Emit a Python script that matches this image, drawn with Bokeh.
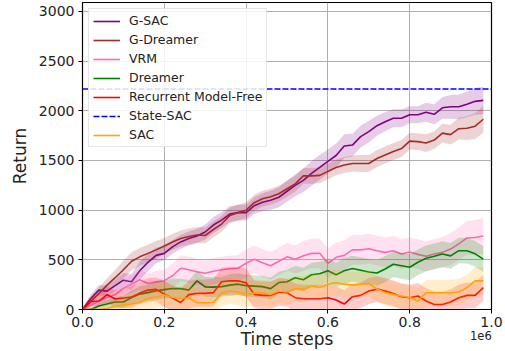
from bokeh.plotting import figure
from bokeh.models import (ColumnDataSource, Legend, LegendItem, FixedTicker, Range1d,
                          LinearAxis)
from bokeh.embed import file_html
from bokeh.resources import INLINE

# ---------------- data ----------------
steps = [i * 20000 for i in range(50)]  # 0 .. 980000
x_limits = (0, 1_000_000)
y_limits = (0, 3090)

g_sac = [0, 110, 195, 185, 240, 295, 280, 390, 475, 545,
         565, 630, 680, 715, 740, 780, 850, 900, 960, 975,
         975, 1045, 1080, 1100, 1130, 1190, 1250, 1300, 1370, 1430,
         1490, 1550, 1645, 1655, 1740, 1790, 1850, 1890, 1925, 1925,
         1960, 1960, 1985, 1965, 2030, 2040, 2040, 2065, 2095, 2105]
g_sac_sd = [20, 40, 50, 60, 60, 70, 80, 90, 90, 80,
            70, 70, 70, 70, 70, 75, 80, 80, 80, 80,
            80, 85, 90, 95, 100, 105, 110, 120, 125, 125,
            120, 120, 120, 115, 110, 110, 100, 95, 90, 90,
            85, 85, 95, 100, 110, 120, 125, 130, 135, 140]

g_dreamer = [0, 80, 160, 245, 320, 400, 485, 530, 565, 600,
             640, 680, 715, 735, 750, 745, 805, 860, 945, 975,
             1000, 1075, 1115, 1135, 1165, 1215, 1265, 1345, 1345, 1350,
             1390, 1430, 1455, 1470, 1470, 1470, 1520, 1555, 1590, 1620,
             1695, 1690, 1675, 1705, 1775, 1760, 1820, 1825, 1845, 1915]
g_dreamer_sd = [20, 40, 60, 70, 80, 90, 90, 90, 90, 90,
                80, 80, 80, 80, 80, 80, 80, 80, 80, 80,
                80, 80, 80, 80, 80, 80, 80, 80, 80, 80,
                80, 80, 80, 80, 85, 85, 85, 85, 85, 85,
                85, 85, 90, 90, 95, 100, 110, 120, 130, 135]

vrm = [0, 40, 85, 120, 150, 215, 255, 300, 262, 278,
       290, 340, 415, 400, 380, 365, 385, 400, 410, 415,
       465, 505, 470, 440, 485, 530, 505, 540, 565, 565,
       465, 525, 545, 600, 600, 612, 592, 575, 592, 558,
       578, 555, 535, 558, 575, 608, 660, 720, 725, 740]
vrm_sd = [10, 30, 50, 60, 70, 80, 90, 100, 100, 110,
          110, 120, 130, 130, 130, 130, 130, 130, 130, 130,
          140, 140, 140, 140, 140, 140, 140, 150, 150, 150,
          150, 150, 150, 150, 150, 150, 150, 150, 150, 150,
          150, 150, 150, 150, 155, 160, 165, 170, 175, 180]

dreamer = [0, 0, 35, 55, 75, 75, 120, 155, 170, 188,
           200, 212, 210, 197, 288, 228, 225, 230, 245, 255,
           240, 235, 230, 210, 271, 280, 320, 300, 350, 360,
           390, 350, 390, 412, 395, 378, 368, 408, 455, 440,
           425, 475, 515, 535, 558, 540, 592, 592, 560, 507]
dreamer_sd = [5, 15, 30, 40, 50, 60, 70, 80, 80, 90,
              90, 100, 100, 100, 100, 100, 100, 100, 110, 110,
              110, 110, 110, 110, 110, 120, 120, 120, 120, 120,
              120, 120, 130, 130, 130, 130, 130, 130, 130, 130,
              130, 130, 130, 130, 130, 130, 130, 130, 130, 130]

recurrent_mf = [0, 80, 85, 150, 105, 115, 125, 165, 195, 203,
                155, 115, 70, 150, 162, 162, 170, 280, 290, 288,
                270, 152, 142, 142, 176, 170, 119, 108, 108, 108,
                119, 95, 55, 129, 142, 186, 205, 186, 162, 129,
                119, 136, 85, 51, 51, 75, 119, 142, 142, 220]
recurrent_mf_sd = [10, 40, 60, 80, 90, 100, 110, 110, 120, 120,
                   130, 130, 140, 140, 140, 140, 140, 140, 140, 140,
                   140, 140, 140, 140, 140, 140, 140, 140, 140, 140,
                   140, 140, 140, 130, 130, 130, 130, 130, 130, 130,
                   130, 130, 130, 130, 130, 130, 130, 130, 130, 130]

sac = [0, 0, 0, 10, 30, 45, 55, 70, 110, 125,
       145, 120, 110, 118, 68, 68, 70, 165, 186, 176,
       155, 165, 168, 152, 186, 176, 210, 205, 235, 222,
       255, 270, 255, 245, 254, 262, 205, 170, 152, 135,
       120, 85, 169, 169, 169, 169, 176, 220, 288, 288]
sac_sd = [5, 10, 20, 40, 60, 80, 90, 100, 110, 110,
          120, 120, 120, 130, 130, 130, 130, 130, 130, 130,
          130, 130, 130, 130, 130, 130, 130, 130, 130, 130,
          130, 130, 130, 130, 130, 130, 130, 130, 130, 130,
          130, 130, 130, 130, 130, 130, 130, 130, 140, 140]

state_sac = 2220

x_ticks = [0, 200000, 400000, 600000, 800000, 1000000]
x_tick_labels = ["0.0", "0.2", "0.4", "0.6", "0.8", "1.0"]
y_ticks = [0, 500, 1000, 1500, 2000, 2500, 3000]
offset_text = "1e6"

series = [
    ("G-SAC", g_sac, g_sac_sd, "purple"),
    ("G-Dreamer", g_dreamer, g_dreamer_sd, "brown"),
    ("VRM", vrm, vrm_sd, "hotpink"),
    ("Dreamer", dreamer, dreamer_sd, "green"),
    ("Recurrent Model-Free", recurrent_mf, recurrent_mf_sd, "red"),
    ("State-SAC", None, None, "blue"),
    ("SAC", sac, sac_sd, "orange"),
]

# ---------------- figure ----------------
FONT = "DejaVu Sans"
p = figure(width=503, height=351, output_backend="svg", toolbar_location=None,
           x_range=Range1d(*x_limits), y_range=Range1d(*y_limits),
           min_border_left=82, min_border_right=12, min_border_top=2, min_border_bottom=0)
p.background_fill_color = "white"
p.border_fill_color = "white"
p.outline_line_color = "black"
p.outline_line_width = 1.2

items = []
for name, vals, sd, col in series:
    if vals is None:
        r = p.line(x=list(x_limits), y=[state_sac, state_sac], line_color=col,
                   line_width=1.6, line_dash="6 2")
        items.append(LegendItem(label=name, renderers=[r]))
        continue
    lo = [v - s for v, s in zip(vals, sd)]
    hi = [v + s for v, s in zip(vals, sd)]
    src = ColumnDataSource(dict(x=steps, y=vals, lo=lo, hi=hi))
    p.varea(x="x", y1="lo", y2="hi", source=src, fill_color=col, fill_alpha=0.2)
    r = p.line(x="x", y="y", source=src, line_color=col, line_width=1.6)
    items.append(LegendItem(label=name, renderers=[r]))

legend = Legend(items=items, location="top_left")
legend.label_text_font = FONT
legend.label_text_font_size = "12.5px"
legend.label_text_color = "#222222"
legend.glyph_width = 27
legend.glyph_height = 14
legend.label_height = 14
legend.label_standoff = 9
legend.spacing = 4
legend.padding = 4
legend.margin = 6
legend.border_line_color = "#cccccc"
legend.border_line_width = 1
legend.background_fill_alpha = 0.85
p.add_layout(legend)

# main axes
xax = p.xaxis[0]
yax = p.yaxis[0]
xax.ticker = FixedTicker(ticks=x_ticks)
xax.major_label_overrides = {t: l for t, l in zip(x_ticks, x_tick_labels)}
yax.ticker = FixedTicker(ticks=y_ticks)
for ax in (xax, yax):
    ax.major_label_text_font = FONT
    ax.major_label_text_font_size = "14px"
    ax.major_label_text_color = "#222222"
    ax.axis_label_text_font = FONT
    ax.axis_label_text_font_size = "17px"
    ax.axis_label_text_font_style = "normal"
    ax.axis_label_text_color = "#222222"
    ax.major_tick_in = 0
    ax.major_tick_out = 4
    ax.minor_tick_line_color = None
    ax.axis_line_color = "black"
    ax.major_tick_line_color = "black"
yax.axis_label = "Return"
xax.major_label_standoff = 3
yax.major_label_standoff = 4
yax.axis_label_standoff = 6

# offset text "1e6" as a label row under the right end of the x axis
x_span = x_limits[1] - x_limits[0]
off_pos = x_limits[1] - 0.026 * x_span
off_axis = LinearAxis(ticker=FixedTicker(ticks=[off_pos]),
                      major_label_overrides={off_pos: offset_text})
off_axis.axis_line_color = None
off_axis.major_tick_line_color = None
off_axis.minor_tick_line_color = None
off_axis.major_tick_in = 0
off_axis.major_tick_out = 0
off_axis.major_label_standoff = 1
off_axis.major_label_text_font = FONT
off_axis.major_label_text_font_size = "11.5px"
off_axis.major_label_text_color = "#222222"
p.add_layout(off_axis, "below")

# x axis title sharing the same row as the offset text
title_axis = LinearAxis(ticker=FixedTicker(ticks=[]), axis_label="Time steps")
title_axis.axis_line_color = None
title_axis.major_tick_line_color = None
title_axis.minor_tick_line_color = None
title_axis.major_tick_in = 0
title_axis.major_tick_out = 0
title_axis.major_label_standoff = 0
title_axis.major_label_text_font_size = "1px"
title_axis.axis_label_standoff = -14
title_axis.axis_label_text_font = FONT
title_axis.axis_label_text_font_size = "17px"
title_axis.axis_label_text_font_style = "normal"
title_axis.axis_label_text_color = "#222222"
p.add_layout(title_axis, "below")

p.grid.grid_line_color = "#b0b0b0"
p.grid.grid_line_width = 1
p.xgrid.ticker = FixedTicker(ticks=x_ticks)
p.ygrid.ticker = FixedTicker(ticks=y_ticks)

open("out.html", "w").write(file_html(p, INLINE))
